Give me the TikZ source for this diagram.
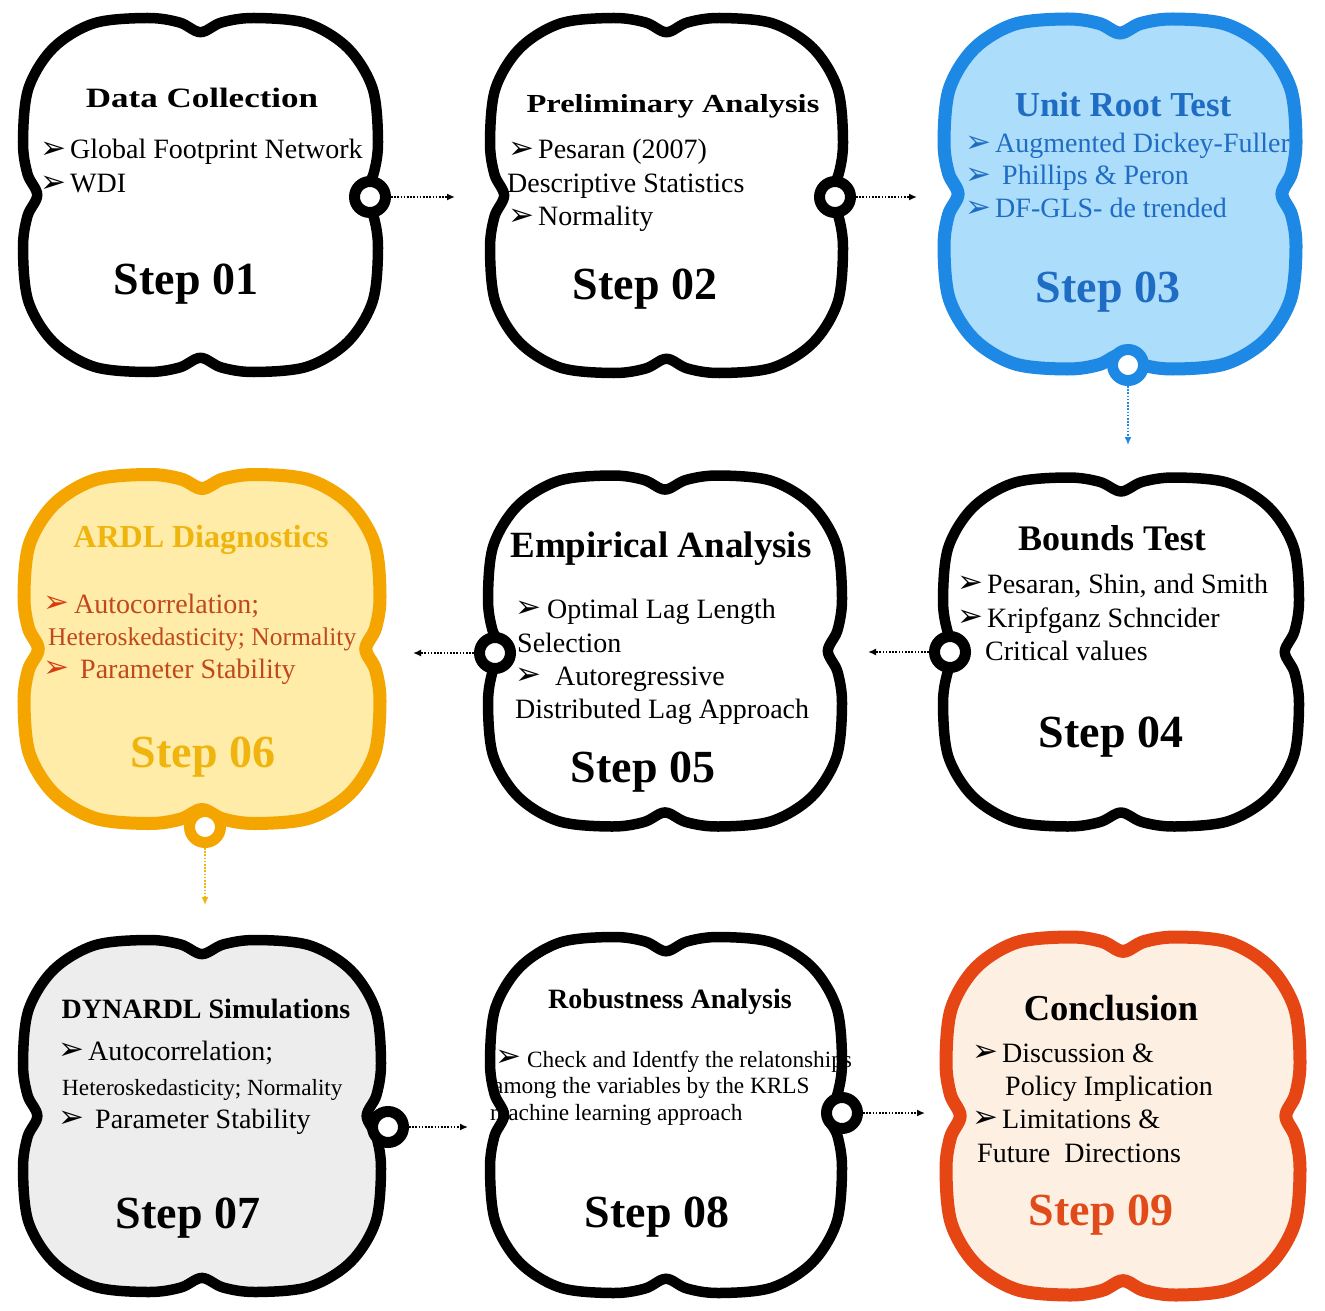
\documentclass[tikz,border=0pt]{standalone}
\usepackage{fontspec}
\usepackage{graphicx}
\setmainfont{Liberation Serif}
\newfontfamily\bltfont{DejaVu Sans}
\usetikzlibrary{arrows.meta}

\definecolor{bluefill}{RGB}{172,221,250}
\definecolor{bluestroke}{RGB}{30,136,229}
\definecolor{bluetext}{RGB}{31,108,196}
\definecolor{orfill}{RGB}{254,236,168}
\definecolor{orstroke}{RGB}{245,165,0}
\definecolor{ortitle}{RGB}{240,180,15}
\definecolor{ortext}{RGB}{192,72,28}
\definecolor{orbullet}{RGB}{215,60,15}
\definecolor{grayfill}{RGB}{237,237,237}
\definecolor{crfill}{RGB}{253,240,226}
\definecolor{crstroke}{RGB}{230,70,20}
\definecolor{crtext}{RGB}{225,75,25}

\newcommand\fs[1]{\fontsize{#1bp}{#1bp}\selectfont}
\newcommand\blt[1][30bp]{\makebox[#1][l]{\raisebox{0.5bp}{\bltfont\fontsize{31bp}{31bp}\selectfont ➢}}}
% cloud outline: #1 options, #2 cx, #3 cy, #4 half width, #5 half height
\newcommand\cloud[5]{\path[#1, shift={(#2,#3)}, x=#4bp, y=#5bp]
  plot[smooth cycle, tension=0.55] coordinates {(0,0.92) (0.12,0.975) (0.3,1) (0.6,0.97) (0.83,0.83) (0.97,0.6) (1,0.3) (0.975,0.12) (0.92,0) (0.975,-0.12) (1,-0.3) (0.97,-0.6) (0.83,-0.83) (0.6,-0.97) (0.3,-1) (0.12,-0.975) (0,-0.92) (-0.12,-0.975) (-0.3,-1) (-0.6,-0.97) (-0.83,-0.83) (-0.97,-0.6) (-1,-0.3) (-0.975,-0.12) (-0.92,0) (-0.975,0.12) (-1,0.3) (-0.97,0.6) (-0.83,0.83) (-0.6,0.97) (-0.3,1) (-0.12,0.975)};}

\begin{document}
\begin{tikzpicture}[x=1bp,y=-1bp,
  tl/.style={anchor=base west, inner sep=0pt},
  ttl/.style={anchor=base, inner sep=0pt, font=\bfseries},
  ring/.style={circle, minimum size=31bp, inner sep=0pt, line width=11bp, draw=#1, fill=white},
  conn/.style={draw=#1, line width=1.8bp, dash pattern=on 1.6bp off 1.6bp, -{Latex[length=8bp,width=7bp]}},
  blackline/.style={draw=black, line width=10.5bp},
  colline/.style={draw=#1, line width=13bp}]
\useasboundingbox (0,0) rectangle (1325,1311);
\fill[white] (0,0) rectangle (1325,1311);

% ---- fills
\cloud{fill=white}{200.5}{195}{177.5}{177}
\cloud{fill=white}{666.5}{195.5}{176.5}{177.5}
\cloud{fill=bluefill}{1120}{194}{176}{175}
\cloud{fill=orfill}{202}{649}{178}{174.5}
\cloud{fill=white}{665}{651}{177}{175.5}
\cloud{fill=white}{1121}{652}{178}{174.5}
\cloud{fill=grayfill}{202}{1116}{179}{176}
\cloud{fill=white}{666}{1115}{176}{178}
\cloud{fill=crfill}{1123}{1116}{177}{179}

% ---- Step 01
\node[ttl] (t1) at (202,108) {\fs{28}\scalebox{1.25}[1]{\bfseries Data Collection}};
\node[tl] (l1a) at (40,159) {\fs{28}\blt Global Footprint Network};
\node[tl] (l1b) at (40,193) {\fs{28}\blt WDI};
\node[ttl] (s1) at (186,295) {\fs{46}Step 01};

% ---- Step 02
\node[ttl] (t2) at (673,113) {\fs{26}\scalebox{1.25}[1]{\bfseries Preliminary Analysis}};
\node[tl] (l2a) at (508,159) {\fs{28}\blt Pesaran (2007)};
\node[tl] (l2b) at (507,193) {\fs{28}Descriptive Statistics};
\node[tl] (l2c) at (508,226) {\fs{28}\blt Normality};
\node[ttl] (s2) at (645,300) {\fs{46}Step 02};

% ---- Step 03
\begin{scope}[bluetext]
\node[ttl] (t3) at (1123,117) {\fs{35}Unit Root Test};
\node[tl] (l3a) at (965,153) {\fs{28}\blt Augmented Dickey-Fuller};
\node[tl] (l3b) at (965,185) {\fs{28}\blt[37bp]Phillips \& Peron};
\node[tl] (l3c) at (965,218) {\fs{28}\blt DF-GLS- de trended};
\node[ttl] (s3) at (1108,303) {\fs{46}Step 03};
\end{scope}

% ---- Step 04
\node[ttl] (t4) at (1112,550) {\fs{36}Bounds Test};
\node[tl] (l4a) at (957,593) {\fs{28}\blt Pesaran, Shin, and Smith};
\node[tl] (l4b) at (957,627) {\fs{28}\blt Kripfganz Schncider};
\node[tl] (l4c) at (985,660) {\fs{28}Critical values};
\node[ttl] (s4) at (1111,747) {\fs{46}Step 04};

% ---- Step 05
\node[ttl] (t5) at (661,557) {\fs{37}Empirical Analysis};
\node[tl] (l5a) at (515,618) {\fs{28}\blt[32bp]Optimal Lag Length};
\node[tl] (l5b) at (517,652) {\fs{28}Selection};
\node[tl] (l5c) at (515,685) {\fs{28}\blt[40bp]Autoregressive};
\node[tl] (l5d) at (515,718) {\fs{28}Distributed Lag Approach};
\node[ttl] (s5) at (643,782) {\fs{46}Step 05};

% ---- Step 06
\node[ttl, text=ortitle] (t6) at (201,547) {\fs{32}ARDL Diagnostics};
\node[tl, text=ortext] (l6a) at (43,613) {\fs{28}{\color{orbullet}\blt[31bp]}Autocorrelation;};
\node[tl, text=ortext] (l6b) at (48,645) {\fs{25.5}Heteroskedasticity; Normality};
\node[tl, text=ortext] (l6c) at (43,678) {\fs{28}{\color{orbullet}\blt[37bp]}Parameter Stability};
\node[ttl, text=ortitle] (s6) at (203,767) {\fs{46}Step 06};

% ---- Step 07
\node[ttl] (t7) at (206,1018) {\fs{28}DYNARDL Simulations};
\node[tl] (l7a) at (58,1060) {\fs{28}\blt Autocorrelation;};
\node[tl] (l7b) at (62,1095) {\fs{23.2}Heteroskedasticity; Normality};
\node[tl] (l7c) at (58,1128) {\fs{28}\blt[37bp]Parameter Stability};
\node[ttl] (s7) at (188,1228) {\fs{46}Step 07};

% ---- Step 08
\node[ttl] (t8) at (670,1008) {\fs{28}Robustness Analysis};
\node[tl] (l8a) at (495,1067) {\fs{23.3}\blt[32bp]Check and Identfy the relatonships};
\node[tl] (l8b) at (493,1093) {\fs{23.3}among the variables by the KRLS};
\node[tl] (l8c) at (490,1120) {\fs{23.3}machine learning approach};
\node[ttl] (s8) at (657,1227) {\fs{46}Step 08};

% ---- Step 09
\node[ttl] (t9) at (1111,1020) {\fs{36.5}Conclusion};
\node[tl] (l9a) at (972,1062) {\fs{28}\blt Discussion \&};
\node[tl] (l9b) at (1005,1095) {\fs{28}Policy Implication};
\node[tl] (l9c) at (972,1128) {\fs{28}\blt Limitations \&};
\node[tl] (l9d) at (977,1162) {\fs{28}Future\ \ Directions};
\node[ttl, text=crtext] (s9) at (1101,1225) {\fs{46}Step 09};

% ---- strokes
\cloud{blackline}{200.5}{195}{177.5}{177}
\cloud{blackline}{666.5}{195.5}{176.5}{177.5}
\cloud{colline=bluestroke}{1120}{194}{176}{175}
\cloud{colline=orstroke}{202}{649}{178}{174.5}
\cloud{blackline}{665}{651}{177}{175.5}
\cloud{blackline}{1121}{652}{178}{174.5}
\cloud{blackline}{202}{1116}{179}{176}
\cloud{blackline}{666}{1115}{176}{178}
\cloud{colline=crstroke}{1123}{1116}{177}{179}

% ---- rings
\node[ring=black] (r1) at (370,197) {};
\node[ring=black] (r2) at (835,197) {};
\node[ring=bluestroke] (r3) at (1128,365) {};
\node[ring=black] (r4) at (950,652) {};
\node[ring=black] (r5) at (495,653) {};
\node[ring=orstroke] (r6) at (205,827) {};
\node[ring=black] (r7) at (388,1127) {};
\node[ring=black] (r8) at (842,1113) {};

% ---- connector ends
\coordinate (e1) at (455,197);
\coordinate (e2) at (917,197);
\coordinate (e3) at (1128,445);
\coordinate (e4) at (868,652);
\coordinate (e5) at (413,653);
\coordinate (e6) at (205,905);
\coordinate (e7) at (468,1127);
\coordinate (e8) at (925,1113);

\draw[conn=black] (r1) -- (e1);
\draw[conn=black] (r2) -- (e2);
\draw[conn=bluestroke] (r3) -- (e3);
\draw[conn=black] (r4) -- (e4);
\draw[conn=black] (r5) -- (e5);
\draw[conn=ortitle] (r6) -- (e6);
\draw[conn=black] (r7) -- (e7);
\draw[conn=black] (r8) -- (e8);
\end{tikzpicture}
\end{document}
